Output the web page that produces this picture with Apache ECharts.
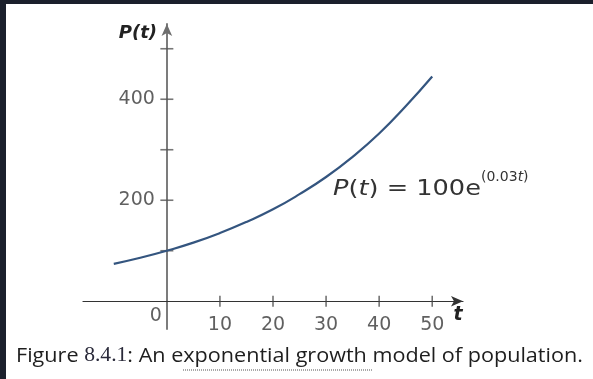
<!DOCTYPE html>
<html>
<head>
<meta charset="utf-8">
<script src="https://cdn.jsdelivr.net/npm/echarts@6/dist/echarts.min.js"></script>
<style>
html,body{margin:0;padding:0;background:#1b202c;}
#chart{width:593px;height:379px;}
</style>
</head>
<body>
<div id="chart"></div>
<script>
// Data
const tValues = [-10, -5, 0, 5, 10, 15, 20, 25, 30, 35, 40, 45, 50];
const pValues = [74, 86, 100, 116, 135, 157, 182, 212, 246, 286, 332, 386, 445];
const xTickValues = [10, 20, 30, 40, 50];
const xTickLabels = [10, 20, 30, 40, 50];
const yTickValues = [100, 200, 300, 400, 500];
const yTickLabels = [200, 400];

const curveData = tValues.map((t, i) => [t, pValues[i]]);
const xTickData = xTickValues.map(v => [v, 0]);
const yTickData = yTickValues.map(v => [0, v]);
const xLabelData = xTickLabels.map(v => [v, 0]);
const yLabelData = yTickLabels.map(v => [0, v]);

const chart = echarts.init(document.getElementById('chart'), null, {renderer: 'canvas'});
const axisFont = 'DejaVu Sans';
const labelColor = '#383838';

chart.setOption({
  backgroundColor: '#1b202c',
  animation: false,
  grid: {left: 83, top: 24, width: 380, height: 305, containLabel: false},
  xAxis: {
    type: 'value', min: -15.8, max: 55.8,
    splitLine: {show: false},
    axisLine: {onZero: true, symbol: ['none', 'arrow'], symbolSize: [8, 12],
      lineStyle: {color: '#333', width: 1.2}},
    axisTick: {show: false},
    axisLabel: {show: false}
  },
  yAxis: {
    type: 'value', min: -55, max: 549,
    splitLine: {show: false},
    axisLine: {onZero: true, symbol: ['none', 'arrow'], symbolSize: [8, 12],
      lineStyle: {color: '#6e6e6e', width: 1.8}},
    axisTick: {show: false},
    axisLabel: {show: false}
  },
  graphic: [
    {type: 'rect', shape: {x: 6, y: 4, width: 587, height: 375}, style: {fill: '#ffffff'}, z: -10, silent: true},
    {type: 'text', x: 157, y: 33, style: {text: 'P(t)', align: 'right', verticalAlign: 'middle',
      font: 'italic bold 18px "DejaVu Sans"', fill: '#222'}},
    {type: 'text', x: 458, y: 315, style: {text: 't', align: 'center', verticalAlign: 'middle',
      font: 'italic bold 19px "DejaVu Sans"', fill: '#222'}},
    {type: 'text', x: 333, y: 190, scaleX: 1.22, style: {
      text: '{i|P}({i|t}) = 100e', align: 'left', verticalAlign: 'middle',
      font: '21px "DejaVu Sans"', fill: '#333',
      rich: {i: {fontStyle: 'italic', fontSize: 21, fontFamily: 'DejaVu Sans', fill: '#333'}}}},
    {type: 'text', x: 481, y: 177, style: {
      text: '(0.03{i|t})', align: 'left', verticalAlign: 'middle',
      font: '14px "DejaVu Sans"', fill: '#333',
      rich: {i: {fontStyle: 'italic', fontSize: 14, fontFamily: 'DejaVu Sans', fill: '#333'}}}},
    {type: 'text', x: 16, y: 356, scaleX: 1.08, style: {
      text: '{a|Figure }{b|8.4.1}{a|: An exponential growth model of population.}',
      align: 'left', verticalAlign: 'middle',
      rich: {
        a: {fontFamily: 'Open Sans', fontSize: 20, fill: '#1e1e1e'},
        b: {fontFamily: 'Liberation Serif', fontSize: 20, fill: '#2a2a3a'}
      }}},
    {type: 'line', shape: {x1: 183, y1: 370, x2: 373, y2: 370},
      style: {stroke: '#555', lineWidth: 1, lineDash: [1, 1]}}
  ],
  series: [
    {type: 'line', name: 'P(t)', data: curveData, smooth: true, showSymbol: false,
      lineStyle: {color: '#34557f', width: 2.2}, z: 5},
    {type: 'scatter', name: 'xTicks', data: xTickData, symbol: 'rect', symbolSize: [1.5, 11],
      itemStyle: {color: '#444'}, z: 3},
    {type: 'scatter', name: 'yTicks', data: yTickData, symbol: 'rect', symbolSize: [13, 1.6],
      itemStyle: {color: '#555'}, z: 3},
    {type: 'scatter', name: 'xLabels', data: xLabelData, symbolSize: 0,
      label: {show: true, formatter: p => String(p.value[0]), position: 'inside', offset: [0, 24],
        fontFamily: axisFont, fontSize: 19, color: labelColor}},
    {type: 'scatter', name: 'yLabels', data: yLabelData, symbolSize: 0,
      label: {show: true, formatter: p => String(p.value[1]), position: 'inside', align: 'right', offset: [-12, 0],
        fontFamily: axisFont, fontSize: 19, color: labelColor}},
    {type: 'scatter', name: 'origin', data: [[0, 0]], symbolSize: 0,
      label: {show: true, formatter: '0', position: 'inside', offset: [-11, 15],
        fontFamily: axisFont, fontSize: 19, color: labelColor}}
  ]
});
</script>
</body>
</html>
